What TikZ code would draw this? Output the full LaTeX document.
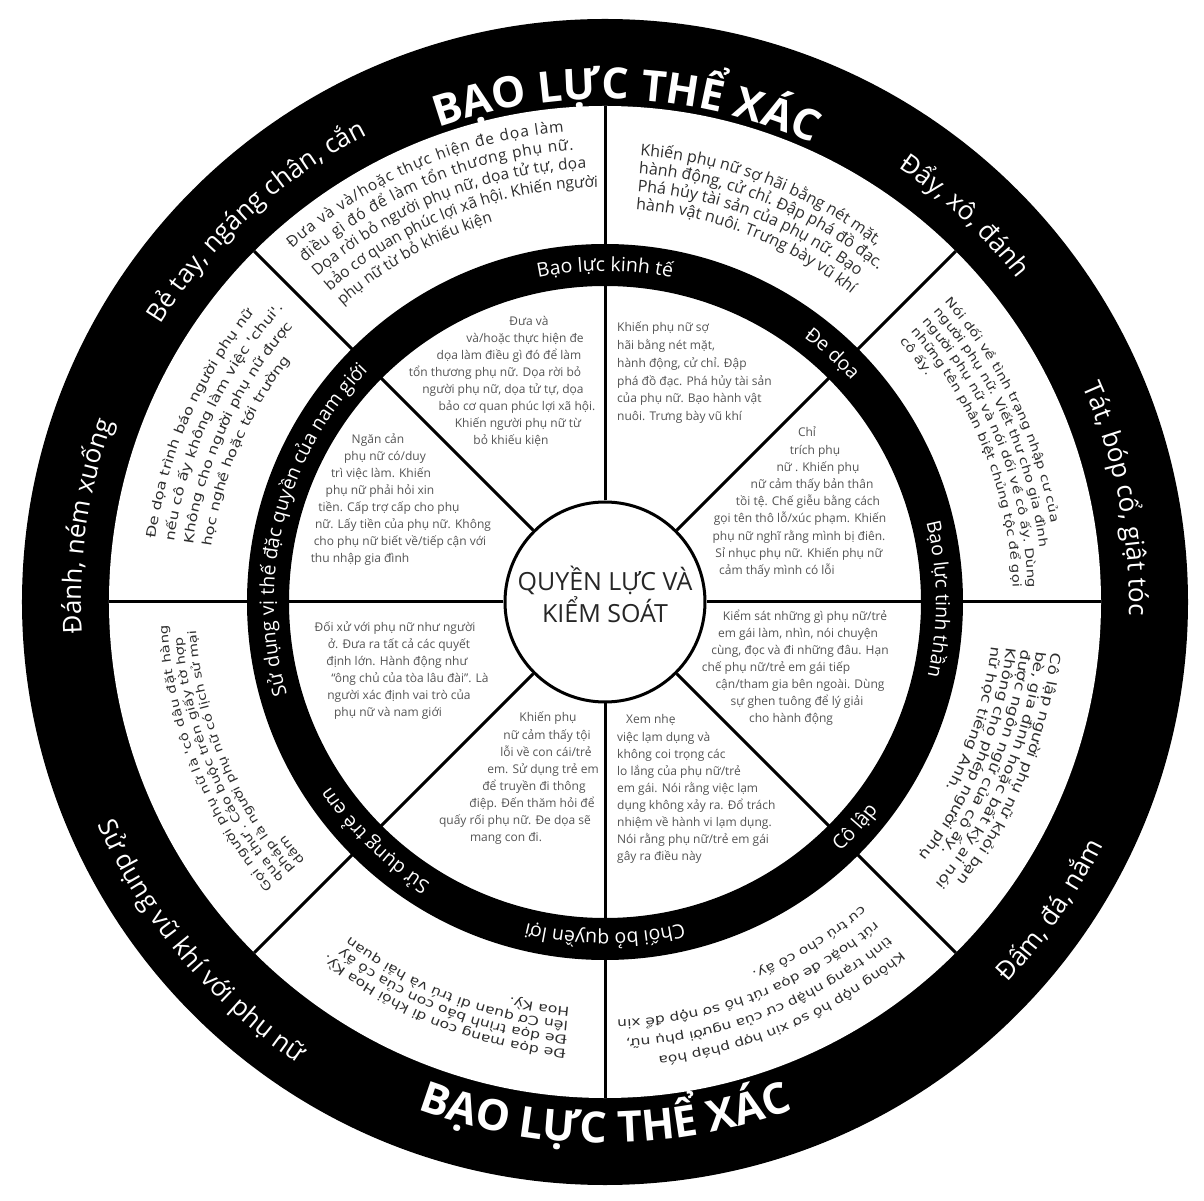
\documentclass[tikz,border=0pt]{standalone}
\usepackage{fontspec}
\setmainfont{Open Sans}
\newfontfamily\geo[FakeStretch=1.25]{DejaVu Sans}
\usetikzlibrary{decorations.text}
\definecolor{bandtext}{gray}{0.18}
\definecolor{innertext}{gray}{0.33}
\newcommand{\arcline}[5]{%
  \path[decorate,decoration={text along path,text align=left,text={|#1|#5}}]
    (#3:#2) arc[start angle=#3,end angle={#3-#4},radius=#2];}
\newcommand{\arcjust}[5]{%
  \path[decorate,decoration={text along path,text align={fit to path},text={|#1|#5}}]
    (#3:#2) arc[start angle=#3,end angle=#4,radius=#2];}
\newcommand{\cwlabel}[5]{%
  \path[decorate,decoration={text along path,text align=center,text={|#1|#5}}]
    ({#3+#4}:#2) arc[start angle={#3+#4},end angle={#3-#4},radius=#2];}
\newcommand{\ccwlabel}[5]{%
  \path[decorate,decoration={text along path,text align=center,text={|#1|#5}}]
    ({#3-#4}:#2) arc[start angle={#3-#4},end angle={#3+#4},radius=#2];}
\newcommand{\fntTitle}{\bfseries\fontsize{43}{43}\selectfont\color{white}}
\newcommand{\fntOuter}{\fontsize{26}{26}\selectfont\color{white}}
\newcommand{\fntRing}{\fontsize{19.5}{19.5}\selectfont\color{white}}
\newcommand{\fntA}{\fontsize{15.5}{15.5}\selectfont\color{bandtext}}
\newcommand{\fntB}{\fontsize{16}{16}\selectfont\color{bandtext}}
\newcommand{\fntC}{\geo\fontsize{11.9}{11.9}\selectfont\color{bandtext}}
\newcommand{\fntD}{\geo\fontsize{13.6}{13.6}\selectfont\color{bandtext}}
\newcommand{\fntE}{\geo\fontsize{12.3}{12.3}\selectfont\color{bandtext}}
\newcommand{\fntF}{\geo\fontsize{12.5}{12.5}\selectfont\color{bandtext}}
\newcommand{\fntG}{\geo\fontsize{11.8}{11.8}\selectfont\color{bandtext}}
\newcommand{\fntH}{\geo\fontsize{13}{13}\selectfont\color{bandtext}}
\begin{document}
\begin{tikzpicture}[x=1pt,y=1pt,
  spoke/.style={line width=3pt},
  itext/.style={font=\fontsize{12}{12}\selectfont,text=innertext,inner sep=0pt,anchor=base}]
\useasboundingbox (-605,-599) rectangle (599,602);
\fill[white] (-605,-599) rectangle (599,602);
\fill[black] (0,0) circle[radius=583];
\fill[white] (0,0) circle[radius=496];
\node[circle,draw,line width=3pt,fill=white,minimum size=200pt,inner sep=0pt] (core) at (0,0) {};
\foreach \a in {0,45,...,315} \draw[spoke] (core.\a) -- (\a:496);
\fill[black,even odd rule] (0,0) circle[radius=358] (0,0) circle[radius=316];
\node[font=\fontsize{25}{32}\selectfont,align=center,text=black!85,inner sep=0pt] (coretext) at (0,8) {QUYỀN LỰC VÀ\\KIỂM SOÁT};

% outer ring labels
\cwlabel{\fntTitle}{503}{87.5}{40}{BẠO LỰC THỂ XÁC}
\ccwlabel{\fntTitle}{541}{270}{40}{BẠO LỰC THỂ XÁC}
\cwlabel{\fntOuter}{524}{132.5}{30}{Bẻ tay, ngáng chân, cắn}
\cwlabel{\fntOuter}{524}{47}{22}{Đẩy, xô, đánh}
\cwlabel{\fntOuter}{524}{11.4}{28}{Tát, bóp cổ, giật tóc}
\ccwlabel{\fntOuter}{554}{-34.7}{22}{Đấm, đá, nắm}
\ccwlabel{\fntOuter}{554}{220}{30}{Sử dụng vũ khí với phụ nữ}
\cwlabel{\fntOuter}{524}{171.7}{22}{Đánh, ném xuống}

% inner ring labels
\cwlabel{\fntRing}{331}{90}{30}{Bạo lực kinh tế}
\cwlabel{\fntRing}{331}{47.5}{20}{Đe dọa}
\cwlabel{\fntRing}{331}{0.5}{30}{Bạo lực tinh thần}
\ccwlabel{\fntRing}{343}{-42}{20}{Cô lập}
\cwlabel{\fntRing}{331}{270}{30}{Chối bỏ quyền lợi}
\cwlabel{\fntRing}{331}{226}{25}{Sử dụng trẻ em}
\cwlabel{\fntRing}{331}{166}{45}{Sử dụng vị thế đặc quyền của nam giới}

% band sector A (90-135)
\arcjust{\fntA}{472}{131.5}{95}{Đưa và và/hoặc thực hiện đe dọa làm}
\arcjust{\fntA}{453}{131.5}{94}{điều gì đó để làm tổn thương phụ nữ.}
\arcjust{\fntA}{434}{131.5}{92.5}{Dọa rời bỏ người phụ nữ, dọa tử tự, dọa}
\arcjust{\fntA}{415}{131.5}{91}{bảo cơ quan phúc lợi xã hội. Khiến người}
\arcline{\fntA}{396}{131.5}{50}{phụ nữ từ bỏ khiếu kiện}
% sector B (45-90)
\arcline{\fntB}{448}{85.5}{50}{Khiến phụ nữ sợ hãi bằng nét mặt,}
\arcline{\fntB}{430}{85.5}{50}{hành động, cử chỉ. Đập phá đồ đạc.}
\arcline{\fntB}{412}{85.5}{50}{Phá hủy tài sản của phụ nữ. Bạo}
\arcline{\fntB}{394}{85.5}{50}{hành vật nuôi. Trưng bày vũ khí}
% sector C (0-45)
\arcline{\fntC}{453}{41.5}{50}{Nói dối về tình trạng nhập cư của}
\arcline{\fntC}{438}{41.5}{50}{người phụ nữ. Viết thư cho gia đình}
\arcline{\fntC}{423}{41.5}{50}{người phụ nữ và nói dối về cô ấy. Dùng}
\arcline{\fntC}{408}{41.5}{50}{những tên phân biệt chủng tộc để gọi}
\arcline{\fntC}{393}{41.5}{50}{cô ấy.}
% sector D (-45-0)
\arcline{\fntD}{449}{-6.5}{50}{Cô lập người phụ nữ khỏi bạn}
\arcline{\fntD}{434}{-6.5}{50}{bè, gia đình hoặc bất kỳ ai nói}
\arcline{\fntD}{419}{-6.5}{50}{được ngôn ngữ của cô ấy.}
\arcline{\fntD}{404}{-6.5}{50}{Không cho phép người phụ}
\arcline{\fntD}{389}{-6.5}{50}{nữ học tiếng Anh.}
% sector E (-90 - -45)
\arcline{\fntE}{458}{-49.8}{50}{Không nộp hồ sơ xin hợp pháp hóa}
\arcline{\fntE}{438}{-49.8}{50}{tình trạng nhập cư của người phụ nữ,}
\arcline{\fntE}{418}{-49.8}{50}{rút hoặc đe dọa rút hồ sơ nộp để xin}
\arcline{\fntE}{398}{-49.8}{50}{cư trú cho cô ấy.}
% sector F (-135 - -90)
\arcline{\fntF}{449}{-95}{50}{Đe dọa mang con đi khỏi Hoa Kỳ.}
\arcline{\fntF}{435}{-95}{50}{Đe dọa trình báo con của cô ấy}
\arcline{\fntF}{421}{-95}{50}{lên Cơ quan di trú và hải quan}
\arcline{\fntF}{407}{-95}{50}{Hoa Kỳ.}
% sector G (180-225)
\arcjust{\fntG}{438}{220.7}{183}{Gọi người phụ nữ là 'cô dâu đặt hàng}
\arcjust{\fntG}{424}{220.7}{184.8}{qua thư'. Cáo buộc trên giấy tờ hợp}
\arcjust{\fntG}{410}{220.7}{184}{pháp là người phụ nữ có lịch sử mại}
\arcline{\fntG}{396}{220.7}{50}{dâm}
% sector H (135-180)
\arcline{\fntH}{454}{172}{50}{Đe dọa trình báo người phụ nữ}
\arcline{\fntH}{435}{172}{50}{nếu cô ấy không làm việc 'chui'.}
\arcline{\fntH}{416}{172}{50}{Không cho người phụ nữ được}
\arcline{\fntH}{397}{172}{50}{học nghề hoặc tới trường}

% inner sectors
\foreach \t/\cx [count=\i] in {{Đưa và}/529,{và/hoặc thực hiện đe}/525,{dọa làm điều gì đó để làm}/509,{tổn thương phụ nữ. Dọa rời bỏ}/495,{người phụ nữ, dọa tử tự, dọa}/503,{bảo cơ quan phúc lợi xã hội.}/517,{Khiến người phụ nữ từ}/518,{bỏ khiếu kiện}/511}
  \node[itext] (ka\i) at (\cx-605,293-17*\i) {\t};
\foreach \t [count=\i] in {{Khiến phụ nữ sợ},{hãi bằng nét mặt,},{hành động, cử chỉ. Đập},{phá đồ đạc. Phá hủy tài sản},{của phụ nữ. Bạo hành vật},{nuôi. Trưng bày vũ khí}}
  \node[itext,anchor=base west] (kb\i) at (12,288-17.8*\i) {\t};
\foreach \t/\cx [count=\i] in {{Chỉ}/807,{trích phụ}/815,{nữ . Khiến phụ}/818,{nữ cảm thấy bản thân}/812,{tồi tệ. Chế giễu bằng cách}/808,{gọi tên thô lỗ/xúc phạm. Khiến}/800,{phụ nữ nghĩ rằng mình bị điên.}/799,{Sỉ nhục phụ nữ. Khiến phụ nữ}/799,{cảm thấy mình có lỗi}/777}
  \node[itext] (kc\i) at (\cx-605,182.2-17.2*\i) {\t};
\foreach \t/\cx [count=\i] in {{Kiểm sát những gì phụ nữ/trẻ}/805,{em gái làm, nhìn, nói chuyện}/798,{cùng, đọc và đi những đâu. Hạn}/800,{chế phụ nữ/trẻ em gái tiếp}/776,{cận/tham gia bên ngoài. Dùng}/800,{sự ghen tuông để lý giải}/797,{cho hành động}/791}
  \node[itext] (kd\i) at (\cx-605,-2-17*\i) {\t};
\foreach \t/\lx [count=\i] in {{Xem nhẹ}/21,{việc lạm dụng và}/12,{không coi trọng các}/12,{lo lắng của phụ nữ/trẻ}/12,{em gái. Nói rằng việc lạm}/12,{dụng không xảy ra. Đổ trách}/12,{nhiệm về hành vi lạm dụng.}/12,{Nói rằng phụ nữ/trẻ em gái}/12,{gây ra điều này}/12}
  \node[itext,anchor=base west] (ke\i) at (\lx,-104.9-17.1*\i) {\t};
\foreach \t/\cx [count=\i] in {{Khiến phụ}/548,{nữ cảm thấy tội}/547,{lỗi về con cái/trẻ}/546,{em. Sử dụng trẻ em}/543,{để truyền đi thông}/534,{điệp. Đến thăm hỏi để}/532,{quấy rối phụ nữ. Đe dọa sẽ}/515,{mang con đi.}/506}
  \node[itext] (kf\i) at (\cx-605,-103-17*\i) {\t};
\foreach \t/\cx [count=\i] in {{Đối xử với phụ nữ như người}/395,{ở. Đưa ra tất cả các quyết}/399,{định lớn. Hành động như}/397,{“ông chủ của tòa lâu đài”. Là}/410,{người xác định vai trò của}/399,{phụ nữ và nam giới}/388}
  \node[itext] (kg\i) at (\cx-605,-13-17*\i) {\t};
\foreach \t/\cx [count=\i] in {{Ngăn cản}/378,{phụ nữ có/duy}/385,{trì việc làm. Khiến}/381,{phụ nữ phải hỏi xin}/380,{tiền. Cấp trợ cấp cho phụ}/389,{nữ. Lấy tiền của phụ nữ. Không}/403,{cho phụ nữ biết về/tiếp cận với}/400,{thu nhập gia đình}/360}
  \node[itext] (kh\i) at (\cx-605,175-17*\i) {\t};
\end{tikzpicture}
\end{document}
